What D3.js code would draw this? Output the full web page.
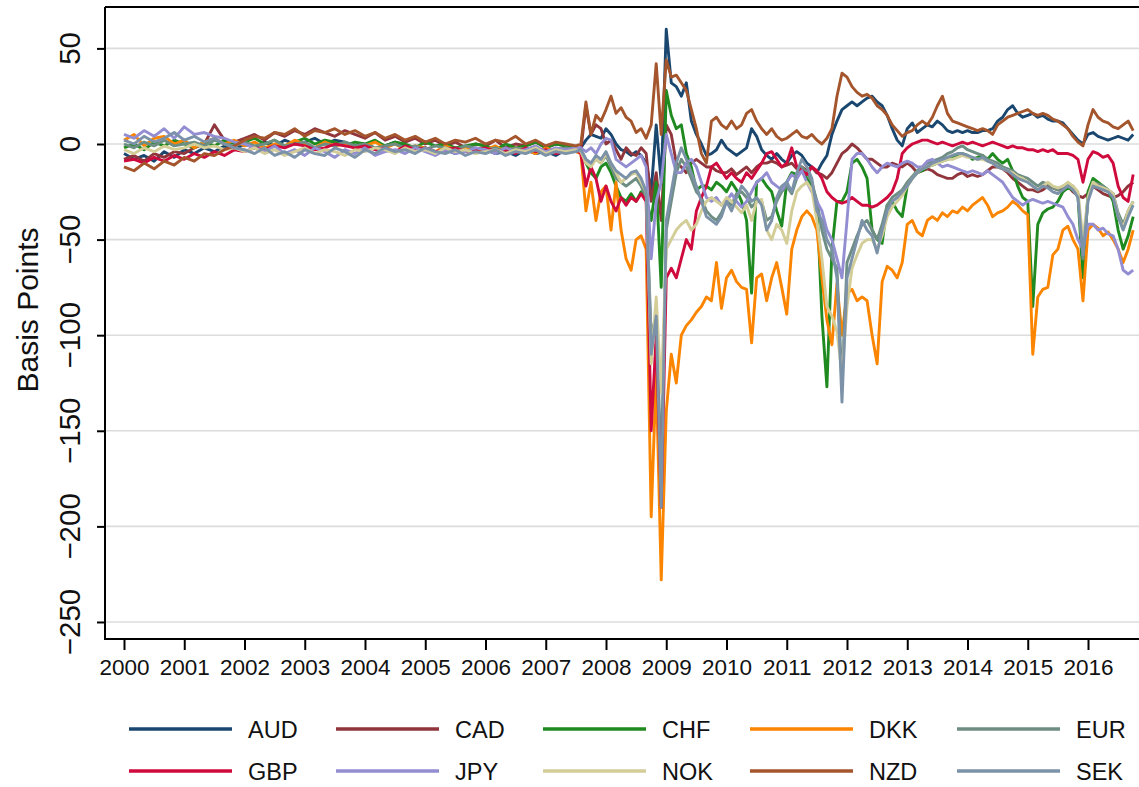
<!DOCTYPE html>
<html>
<head>
<meta charset="utf-8">
<script src="https://cdn.jsdelivr.net/npm/d3@7"></script>
<style>
  html, body { margin: 0; padding: 0; background: #fff; }
  svg { display: block; font-family: "Liberation Sans", Arial, Helvetica, sans-serif; }
</style>
</head>
<body>
<svg id="chart" width="1139" height="787"></svg>
<script>
// ---- data -------------------------------------------------------------
const currencies = ["AUD", "CAD", "CHF", "DKK", "EUR", "GBP", "JPY", "NOK", "NZD", "SEK"];
const yTicks = [50, 0, -50, -100, -150, -200, -250];
const xTicks = [2000, 2001, 2002, 2003, 2004, 2005, 2006, 2007, 2008,
                2009, 2010, 2011, 2012, 2013, 2014, 2015, 2016];

// observation dates (decimal years): every two months to mid-2007, then monthly
const calmDates = d3.range(46).map(i => 2000 + i / 6);
const monthlyDates = d3.range(111).map(k => 2007 + 7 / 12 + k / 12);
const dates = calmDates.concat(monthlyDates);

// basis points
const AUD = [
  -5,-8,-6,-9,-4,-7,-3,-5,-2,-4,-1,-3, 0,-2,1,-1,2,0,1,3,0,2,1,-1,
  0,-2,-1,1,-1,-3,-2,-4,-3,-5,-2,-4, -3,-5,-4,-6,-3,-5,-4,-6,-3,-4,
  -2,2,5,4,3,8,5,0,-3,-4,-6,-4,-6,-10,
  -25,10,-20,60,32,30,25,32,12,5,0,-6,-5,-3,2,
  -2,-4,-6,-4,-2,8,4,-3,-6,-8,-5,-8,-10,
  -6,-4,-6,-10,-12,-15,-10,-6,5,12,18,20,
  22,20,22,24,25,22,20,15,8,2,-1,8,
  11,6,8,10,9,12,10,7,6,7,6,7,
  6,6,7,7,8,12,14,18,20,16,14,15,
  16,14,15,13,12,12,11,8,5,2,0,5,
  6,4,3,2,3,4,3,2,5
];
const CAD = [
  -8,-6,-9,-5,-7,-4,-5,-2,0,10,2,1, 3,5,2,6,4,7,5,8,6,4,7,5,
  3,6,2,4,1,3,0,2,-1,1,-2,0, -1,2,-2,0,-1,1,-2,0,-1,-2,
  -3,20,5,10,8,0,2,-3,-8,-2,-5,-6,-2,-5,
  -30,-15,-40,10,5,-10,-12,-15,-10,-8,-10,-12,-12,-14,-15,
  -15,-13,-16,-14,-12,-15,-12,-10,-10,-9,-10,-12,-11,
  -10,-13,-12,-14,-12,-15,-16,-18,-15,-10,-5,-3,
  0,-2,-5,-8,-8,-10,-12,-12,-10,-11,-12,-10,
  -12,-15,-14,-13,-14,-16,-17,-18,-18,-16,-15,-17,
  -16,-17,-16,-14,-12,-12,-13,-15,-18,-20,-22,-24,
  -24,-25,-24,-22,-23,-24,-23,-22,-25,-27,-28,-26,
  -22,-24,-26,-27,-28,-27,-25,-22,-20
];
const CHF = [
  -2,0,-3,1,-1,2,0,-2,1,-1,2,0, 1,3,0,2,-1,1,3,0,2,1,-1,1,
  0,2,-1,1,0,-2,1,-1,0,-2,-1,0, -1,-3,0,-2,-1,1,-2,0,-1,-2,
  -3,-10,-15,-18,-12,-10,-15,-22,-28,-30,-26,-30,-25,-28,
  -40,-20,-75,28,15,8,10,-5,-12,-24,-22,-22,-24,-20,-22,
  -25,-20,-24,-30,-40,-78,-20,-18,-22,-25,-35,-43,-20,
  -15,-16,-14,-18,-22,-30,-90,-127,-55,-30,-30,-25,
  -10,-8,-12,-18,-45,-50,-52,-32,-30,-35,-38,-22,
  -18,-15,-14,-12,-11,-10,-9,-8,-7,-6,-5,-6,
  -8,-7,-6,-8,-5,-8,-10,-8,-14,-22,-28,-30,
  -85,-42,-36,-34,-33,-30,-25,-23,-24,-27,-70,-25,
  -18,-20,-22,-24,-30,-45,-55,-48,-38
];
const DKK = [
  2,5,-1,3,4,0,2,-2,1,3,0,2, -1,1,-2,0,-1,2,0,-2,1,-1,0,-2,
  -1,1,-2,0,-3,-1,-2,-4,-1,-3,-2,-4, -3,-1,-4,-2,-3,-5,-2,-4,-3,-4,
  -5,-35,-20,-40,-25,-22,-45,-20,-45,-60,-66,-50,-48,-55,
  -195,-120,-228,-140,-110,-125,-100,-95,-92,-88,-85,-80,-82,-62,-86,
  -70,-66,-72,-75,-76,-104,-70,-68,-82,-70,-62,-75,-89,
  -55,-45,-38,-35,-38,-45,-70,-92,-105,-73,-100,-78,
  -76,-82,-80,-82,-100,-115,-72,-64,-66,-70,-62,-42,
  -40,-46,-48,-40,-38,-40,-36,-38,-35,-36,-33,-35,
  -32,-30,-28,-32,-38,-36,-35,-33,-30,-32,-35,-37,
  -110,-80,-76,-75,-58,-55,-45,-43,-50,-55,-82,-45,
  -42,-44,-48,-46,-50,-55,-62,-55,-45
];
const EUR = [
  0,-2,1,-1,2,-1,0,1,-1,2,0,-1, 1,-1,0,2,-1,0,1,-2,0,-1,1,-1,
  0,-2,-1,0,-2,-1,-3,-1,-2,-3,-1,-2, -3,-2,-4,-2,-3,-2,-4,-3,-2,-3,
  -3,-8,-10,-8,-10,-6,-12,-18,-20,-22,-20,-18,-22,-28,
  -100,-90,-170,-45,-30,-15,-8,-12,-18,-25,-28,-35,-38,-40,-36,
  -30,-32,-26,-25,-28,-33,-30,-30,-40,-38,-30,-25,-22,
  -26,-18,-12,-15,-20,-30,-45,-55,-60,-65,-125,-62,
  -55,-48,-42,-40,-45,-50,-42,-32,-28,-26,-24,-20,
  -17,-14,-12,-10,-9,-8,-7,-5,-4,-2,-1,-3,
  -4,-5,-6,-8,-9,-10,-12,-13,-14,-16,-17,-18,
  -20,-22,-20,-21,-23,-24,-22,-21,-22,-26,-60,-28,
  -20,-21,-22,-24,-26,-36,-42,-35,-30
];
const GBP = [
  -9,-8,-10,-7,-9,-6,-8,-5,-7,-4,-6,-3, -4,-2,-3,-1,-2,0,-1,-3,-2,0,-1,-2,
  -1,-3,-2,-4,-1,-3,-2,-4,-3,-2,-4,-3, -2,-4,-3,-5,-2,-4,-3,-5,-4,-3,
  -5,-22,-12,-18,-30,-22,-30,-35,-28,-32,-28,-30,-26,-30,
  -150,-100,-190,-70,-65,-70,-60,-50,-55,-35,-28,-22,-12,-10,-14,
  -18,-15,-18,-20,-15,-18,-14,-10,-5,-4,-8,-12,-10,
  -2,-12,-14,-16,-12,-14,-18,-25,-28,-30,-31,-30,
  -28,-30,-32,-32,-33,-32,-30,-28,-25,-18,-5,-2,
  0,1,2,2,1,0,1,0,-1,0,1,0,
  1,0,-1,0,1,0,-1,-2,-1,-2,-2,-3,
  -3,-4,-3,-4,-3,-5,-5,-5,-6,-8,-20,-8,
  -4,-5,-7,-6,-10,-22,-28,-30,-16
];
const JPY = [
  5,3,7,4,8,3,9,5,6,4,3,1, 0,-2,-4,-1,-5,-3,-6,-2,-4,-7,-3,-5,
  -2,-6,-4,-3,-5,-2,-4,-6,-3,-5,-4,-2, -3,-5,-2,-4,-3,-1,-4,-2,-3,-2,
  -2,-4,-2,-5,0,3,2,-8,-10,-12,-10,-8,-6,-12,
  -60,-30,-20,5,-5,-15,-15,-10,-8,-12,-20,-28,-30,-28,-32,
  -30,-26,-30,-33,-30,-25,-20,-18,-15,-20,-22,-24,-20,
  -16,-18,-14,-20,-25,-30,-35,-45,-50,-60,-70,-40,
  -8,-5,-5,-8,-12,-15,-12,-10,-11,-12,-10,-9,
  -10,-12,-12,-9,-8,-10,-12,-11,-12,-13,-14,-15,
  -14,-15,-16,-14,-16,-18,-20,-24,-28,-30,-32,-30,
  -29,-30,-31,-30,-31,-32,-33,-38,-42,-50,-55,-42,
  -42,-45,-44,-47,-48,-55,-66,-68,-66
];
const NOK = [
  -3,-5,-2,-4,-1,-3,-2,0,-2,-1,-3,-2, -4,-2,-5,-3,-6,-4,-2,-5,-3,-4,-6,-3,
  -4,-2,-3,-5,-2,-4,-3,-5,-2,-4,-3,-5, -4,-3,-5,-3,-4,-2,-5,-3,-4,-3,
  -4,-10,-12,-8,-10,-5,-10,-15,-20,-18,-16,-15,-20,-25,
  -115,-80,-130,-55,-50,-45,-42,-40,-45,-42,-35,-30,-28,-30,-32,
  -28,-30,-33,-36,-32,-40,-30,-29,-45,-50,-42,-45,-52,
  -35,-25,-22,-20,-24,-40,-60,-85,-90,-98,-120,-85,
  -65,-58,-52,-50,-50,-55,-48,-38,-33,-30,-27,-22,
  -18,-15,-13,-12,-11,-10,-9,-8,-8,-7,-6,-7,
  -7,-8,-8,-9,-10,-12,-13,-14,-15,-17,-18,-20,
  -22,-24,-22,-20,-22,-23,-22,-20,-22,-25,-50,-28,
  -20,-22,-23,-24,-26,-38,-44,-35,-30
];
const NZD = [
  -12,-14,-10,-13,-9,-11,-7,-9,-5,-6,-3,-1, 2,4,3,6,5,8,4,7,6,8,5,7,
  4,6,3,5,2,4,1,3,0,2,1,3, 0,2,1,4,0,2,-1,1,0,-1,
  0,22,5,15,12,18,25,16,19,14,12,6,8,3,
  10,42,5,44,35,36,32,28,18,8,-5,-10,12,14,10,
  8,12,8,10,16,18,12,8,5,8,4,2,3,
  5,7,4,3,5,2,0,3,8,25,37,35,
  30,27,25,26,24,20,18,15,10,7,4,6,
  7,10,12,10,14,20,25,16,12,11,10,9,
  8,7,8,7,5,10,12,14,15,16,17,18,
  16,15,16,15,13,12,10,8,4,1,-1,10,
  18,14,12,11,9,8,10,12,7
];
const SEK = [
  2,0,4,1,3,6,2,4,1,3,0,-2, -3,-5,-2,-6,-4,-7,-3,-5,-6,-2,-4,-7,
  -3,-5,-2,-4,-3,-5,-2,-4,-5,-3,-6,-4, -5,-3,-6,-4,-5,-3,-6,-4,-5,-4,
  -3,-8,-10,-6,-8,-4,-10,-14,-16,-18,-15,-14,-18,-25,
  -110,-90,-190,-40,-25,-10,-2,-8,-15,-22,-30,-38,-40,-42,-38,
  -30,-35,-28,-22,-25,-30,-28,-32,-45,-40,-28,-22,-20,
  -25,-15,-8,-12,-18,-35,-40,-50,-55,-70,-135,-70,
  -60,-50,-40,-45,-48,-57,-45,-35,-30,-28,-25,-22,
  -18,-15,-13,-12,-10,-9,-8,-7,-6,-5,-5,-6,
  -7,-8,-7,-9,-10,-12,-13,-14,-16,-18,-19,-20,
  -22,-24,-22,-23,-25,-26,-24,-22,-24,-28,-58,-30,
  -22,-23,-24,-25,-28,-38,-45,-38,-32
];

const seriesValues = { AUD, CAD, CHF, DKK, EUR, GBP, JPY, NOK, NZD, SEK };
const colors = {
  AUD: "#1a476f", CAD: "#90353b", CHF: "#1f8a1f", DKK: "#fb8500", EUR: "#6e8e84",
  GBP: "#cf0a3d", JPY: "#938dd2", NOK: "#d3cd98", NZD: "#a5552c", SEK: "#7b92a8"
};

currencies.forEach(c => {
  if (seriesValues[c].length !== dates.length)
    throw new Error(c + " has " + seriesValues[c].length + " values, expected " + dates.length);
});

// ---- layout -----------------------------------------------------------
const W = 1139, H = 787;
const plot = { left: 105, top: 7, right: 1145, bottom: 639 };

const x = d3.scaleLinear().domain([2000, 2016]).range([124, 1088]);
const y = d3.scaleLinear().domain([-258.9, 71.65]).range([plot.bottom, plot.top]);

const svg = d3.select("#chart");

svg.append("defs").append("clipPath").attr("id", "plotClip")
  .append("rect")
  .attr("x", plot.left).attr("y", plot.top)
  .attr("width", plot.right - plot.left).attr("height", plot.bottom - plot.top);

// horizontal grid
svg.append("g").selectAll("line").data(yTicks).join("line")
  .attr("x1", plot.left).attr("x2", plot.right)
  .attr("y1", d => y(d)).attr("y2", d => y(d))
  .attr("stroke", "#dcdcdc").attr("stroke-width", 1.6);

// series
const line = d3.line().x(d => x(d[0])).y(d => y(d[1]));
const lines = svg.append("g").attr("clip-path", "url(#plotClip)");
currencies.forEach(c => {
  const pts = dates.map((t, i) => [t, seriesValues[c][i]]);
  lines.append("path")
    .datum(pts)
    .attr("d", line)
    .attr("fill", "none")
    .attr("stroke", colors[c])
    .attr("stroke-width", 2.9)
    .attr("stroke-linejoin", "round");
});

// frame (top, left, bottom)
const frame = svg.append("g").attr("stroke", "#000").attr("stroke-width", 2);
frame.append("line").attr("x1", plot.left).attr("x2", W).attr("y1", plot.top).attr("y2", plot.top);

// y axis
const yAxis = svg.append("g")
  .attr("transform", `translate(${plot.left},0)`)
  .call(d3.axisLeft(y).tickValues(yTicks).tickSize(8).tickSizeOuter(0).tickFormat(""));
yAxis.select(".domain").remove();
yAxis.selectAll(".tick line").attr("stroke", "#000").attr("stroke-width", 2);
yAxis.selectAll(".tick text").remove();
svg.append("g").selectAll("text").data(yTicks).join("text")
  .attr("transform", d => `translate(80,${y(d)}) rotate(-90)`)
  .attr("text-anchor", "middle")
  .attr("font-size", 29.5)
  .attr("fill", "#111")
  .text(d3.format("d"));

svg.append("text")
  .attr("transform", "translate(38,310) rotate(-90)")
  .attr("text-anchor", "middle")
  .attr("font-size", 30)
  .attr("fill", "#111")
  .text("Basis Points");

// x axis
const xAxis = svg.append("g")
  .attr("transform", `translate(0,${plot.bottom})`)
  .call(d3.axisBottom(x).tickValues(xTicks).tickSize(11).tickSizeOuter(0).tickFormat(d3.format("d")));
xAxis.select(".domain").remove();
xAxis.selectAll(".tick line").attr("stroke", "#000").attr("stroke-width", 2);
xAxis.selectAll(".tick text")
  .attr("y", 20).attr("dy", "0.71em")
  .attr("font-size", 22.5)
  .attr("font-family", "'Liberation Sans', Arial, Helvetica, sans-serif")
  .attr("fill", "#111");

frame.raise();
frame.append("line").attr("x1", plot.left).attr("x2", plot.left).attr("y1", plot.top).attr("y2", plot.bottom + 1);
frame.append("line").attr("x1", plot.left - 1).attr("x2", W).attr("y1", plot.bottom).attr("y2", plot.bottom);

// legend: 5 columns x 2 rows
const legend = svg.append("g");
currencies.forEach((c, i) => {
  const col = i % 5, row = Math.floor(i / 5);
  const lx = 129 + col * 207;
  const ly = row === 0 ? 729 : 771;
  legend.append("line")
    .attr("x1", lx).attr("x2", lx + 103)
    .attr("y1", ly).attr("y2", ly)
    .attr("stroke", colors[c]).attr("stroke-width", 3.4);
  legend.append("text")
    .attr("x", lx + 119).attr("y", ly + 8.5)
    .attr("font-size", 23.5)
    .attr("fill", "#111")
    .text(c);
});
</script>
</body>
</html>
